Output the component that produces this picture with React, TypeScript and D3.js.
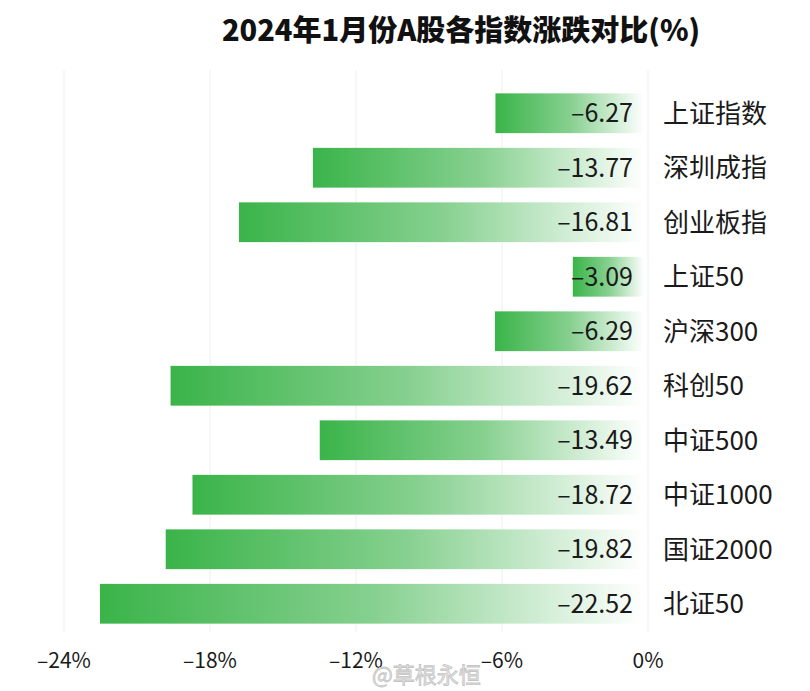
import React, { useEffect, useRef } from 'react'
import * as d3 from 'd3'

const categories = ['上证指数', '深圳成指', '创业板指', '上证50', '沪深300', '科创50', '中证500', '中证1000', '国证2000', '北证50']
const values = [-6.27, -13.77, -16.81, -3.09, -6.29, -19.62, -13.49, -18.72, -19.82, -22.52]
const ticks = [-24, -18, -12, -6, 0]

const W = 810
const H = 691
const FONT = '"Noto Sans CJK SC", "Noto Sans", sans-serif'

function App() {
  const ref = useRef<SVGSVGElement>(null)

  useEffect(() => {
    const svg = d3.select(ref.current)
    svg.selectAll('*').remove()

    const x = d3.scaleLinear().domain([-24, 0]).range([64, 648])
    const y = d3.scaleBand().domain(categories).range([86, 631]).paddingInner(0.27).paddingOuter(0.135)

    const defs = svg.append('defs')
    const grad = defs.append('linearGradient').attr('id', 'barGrad')
      .attr('x1', '0%').attr('x2', '100%').attr('y1', '0%').attr('y2', '0%')
    grad.append('stop').attr('offset', '0%').attr('stop-color', '#3ab449')
    grad.append('stop').attr('offset', '50%').attr('stop-color', '#86d08f')
    grad.append('stop').attr('offset', '100%').attr('stop-color', '#ffffff')

    svg.append('rect').attr('width', W).attr('height', H).attr('fill', '#fff')

    // gridlines
    svg.append('g').selectAll('line').data(ticks).join('line')
      .attr('x1', d => x(d)).attr('x2', d => x(d))
      .attr('y1', 70).attr('y2', 632)
      .attr('stroke', '#eeeeee').attr('stroke-width', 1)

    // title
    svg.append('text')
      .attr('x', 461).attr('y', 41)
      .attr('text-anchor', 'middle')
      .attr('font-family', FONT).attr('font-weight', 900).attr('font-size', 29)
      .attr('fill', '#111')
      .text('2024年1月份A股各指数涨跌对比(%)')

    const rows = svg.append('g').selectAll('g').data(categories).join('g')

    rows.append('rect')
      .attr('x', (d, i) => x(values[i]))
      .attr('y', d => y(d)!)
      .attr('width', (d, i) => x(0) - x(values[i]) - 4)
      .attr('height', y.bandwidth())
      .attr('fill', 'url(#barGrad)')

    rows.append('text')
      .attr('x', x(0) - 15)
      .attr('y', d => y(d)! + y.bandwidth() / 2)
      .attr('dy', '0.36em')
      .attr('text-anchor', 'end')
      .attr('font-family', FONT).attr('font-size', 25)
      .attr('fill', '#1a1a1a')
      .text((d, i) => values[i].toFixed(2).replace('-', '–'))

    rows.append('text')
      .attr('x', 663)
      .attr('y', d => y(d)! + y.bandwidth() / 2)
      .attr('dy', '0.36em')
      .attr('font-family', FONT).attr('font-size', 26)
      .attr('fill', '#1a1a1a')
      .text(d => d)

    // x axis labels
    svg.append('g').selectAll('text').data(ticks).join('text')
      .attr('x', d => x(d))
      .attr('y', 668)
      .attr('text-anchor', 'middle')
      .attr('font-family', FONT).attr('font-size', 21)
      .attr('fill', '#1a1a1a')
      .text(d => (d === 0 ? '0%' : '–' + Math.abs(d) + '%'))

    // weibo watermark
    svg.append('text')
      .attr('x', 372).attr('y', 683)
      .attr('font-family', FONT).attr('font-size', 22)
      .attr('fill', '#e8e8e8').attr('stroke', '#c4c4c4').attr('stroke-width', 0.8)
      .text('@草根永恒')
  }, [])

  return (
    <svg ref={ref} width={W} height={H} viewBox={`0 0 ${W} ${H}`}
      style={{ position: 'absolute', left: 0, top: 0, display: 'block' }} />
  )
}

export default App
